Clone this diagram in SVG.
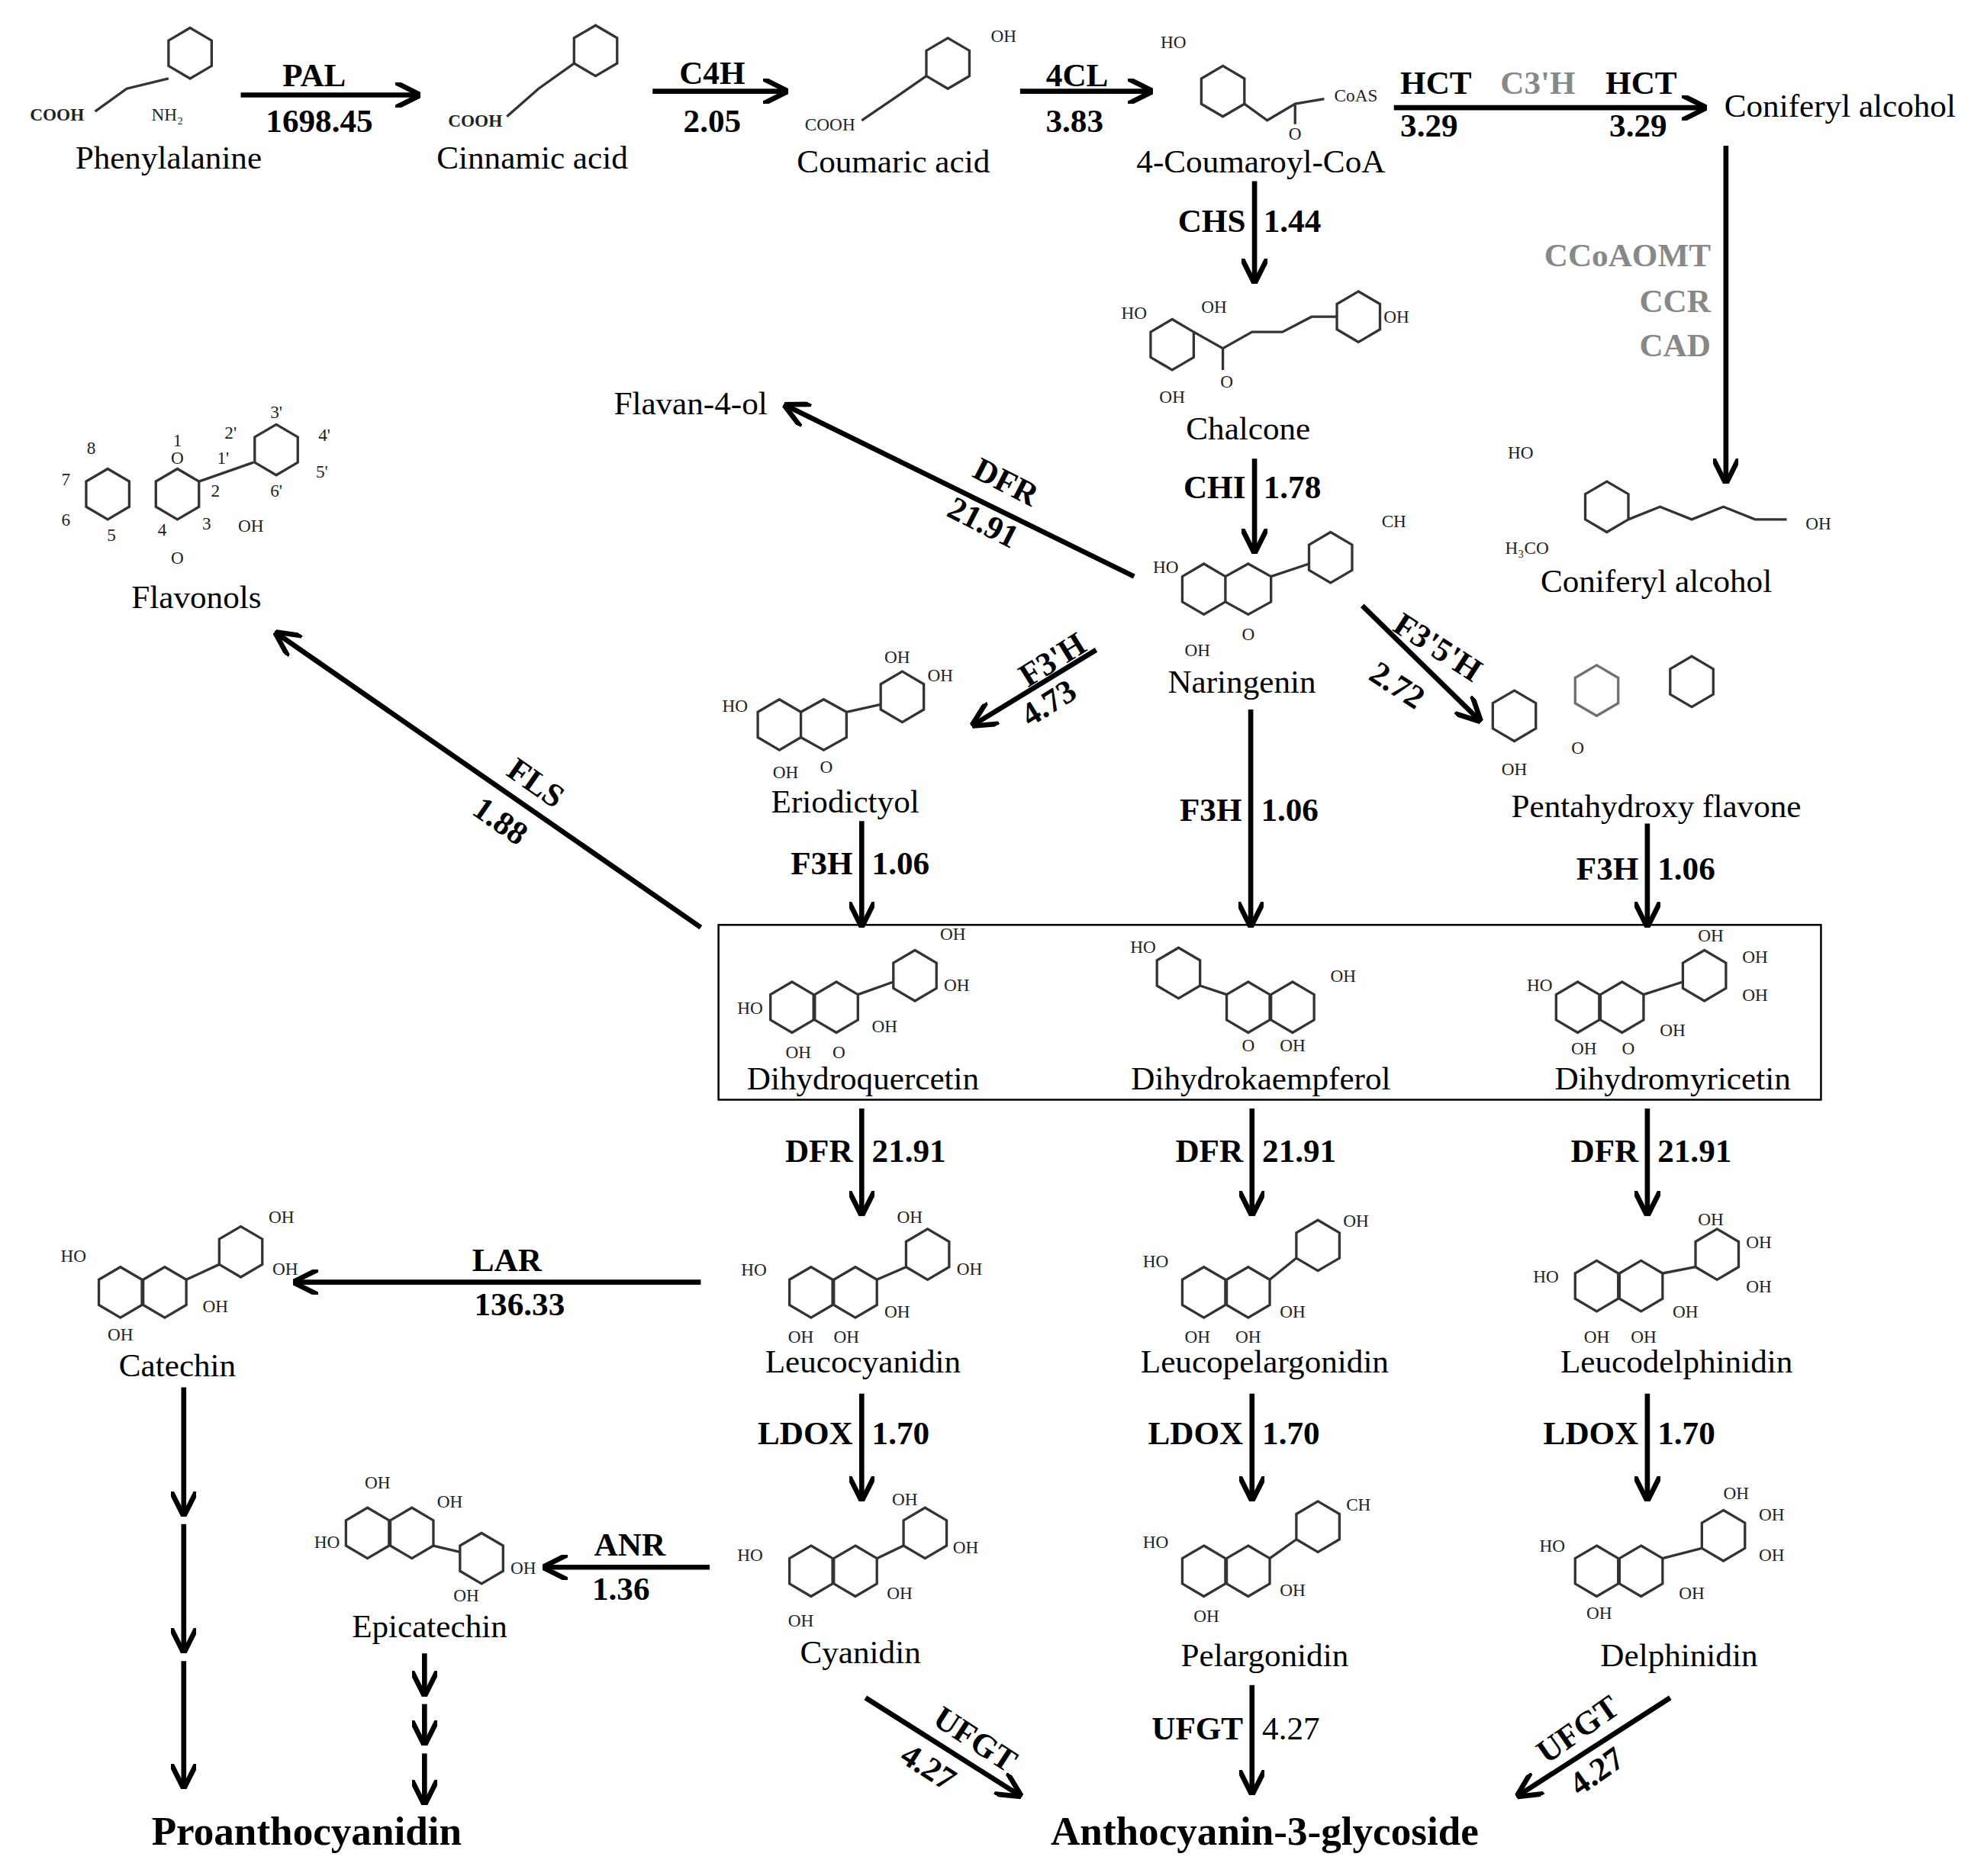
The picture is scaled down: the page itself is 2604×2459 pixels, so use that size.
<svg xmlns="http://www.w3.org/2000/svg" width="2604" height="2459" viewBox="0 0 2604 2459">
<style>
.t{font-family:"Liberation Serif",serif;font-size:26px;fill:#000;text-anchor:middle}
.e{font-family:"Liberation Serif",serif;font-size:26px;font-weight:bold;fill:#000}
.g{fill:#888}
.s{font-family:"Liberation Serif",serif;font-size:14px;fill:#222;text-anchor:middle}
.a{stroke:#000;stroke-width:4;fill:none;marker-end:url(#ah)}
.r{fill:none;stroke:#333;stroke-width:2}
.big{font-family:"Liberation Serif",serif;font-size:32px;font-weight:bold;text-anchor:middle}
</style>
<defs>
<marker id="ah" viewBox="0 0 10 10" refX="8" refY="5" markerWidth="5" markerHeight="5" orient="auto"><path d="M0,0 L10,5 L0,10" fill="none" stroke="#000" stroke-width="2"/></marker>
<path id="hx" d="M0,-20 L17,-10 L17,10 L0,20 L-17,10 L-17,-10 Z"/>
</defs>
<rect width="2604" height="2459" fill="#fff"/>
<g transform="scale(1.6607)">
<g id="structures">
<use href="#hx" x="150" y="42" class="r"/><text class="s" x="45" y="95" font-weight="bold">COOH</text><text class="s" x="132" y="95">NH₂</text><path class="r" d="M75,88 L100,70 L133,62"/>
<use href="#hx" x="470" y="40" class="r"/><text class="s" x="375" y="100" font-weight="bold">COOH</text><path class="r" d="M400,92 L425,70 L453,50"/>
<use href="#hx" x="748" y="50" class="r"/><text class="s" x="792" y="33">OH</text><text class="s" x="655" y="103">COOH</text><path class="r" d="M680,95 L705,78 L731,60"/>
<use href="#hx" x="965" y="72" class="r"/><text class="s" x="926" y="38">HO</text><text class="s" x="1070" y="80">CoAS</text><text class="s" x="1022" y="110">O</text><path class="r" d="M982,82 L1000,95 L1022,82 L1045,78 M1022,82 L1022,98"/>
<g id="chalcone-s"><use href="#hx" x="925" y="272" class="r"/><use href="#hx" x="1072" y="250" class="r"/><path class="r" d="M942,262 L965,275 L988,262 L1012,262 L1035,250 L1055,250 M965,275 L965,292"/><text class="s" x="895" y="252">HO</text><text class="s" x="958" y="247">OH</text><text class="s" x="1102" y="255">OH</text><text class="s" x="925" y="318">OH</text><text class="s" x="968" y="306">O</text></g>
<g id="nar-s"><use href="#hx" x="950" y="465" class="r"/><use href="#hx" x="1050" y="440" class="r"/><path class="r" d="M967,455 L985,445 L1003,455 L1003,475 L985,485 L967,475 M1003,455 L1033,445"/><text class="s" x="920" y="452">HO</text><text class="s" x="1100" y="416">CH</text><text class="s" x="945" y="518">OH</text><text class="s" x="985" y="505">O</text></g>
<g id="erio-s"><use href="#hx" x="615" y="572" class="r"/><use href="#hx" x="712" y="550" class="r"/><path class="r" d="M632,562 L650,552 L668,562 L668,582 L650,592 L632,582 M668,562 L695,556"/><text class="s" x="580" y="562">HO</text><text class="s" x="708" y="523">OH</text><text class="s" x="742" y="538">OH</text><text class="s" x="620" y="614">OH</text><text class="s" x="652" y="610">O</text></g>
<g id="penta-s"><use href="#hx" x="1195" y="565" class="r"/><use href="#hx" x="1260" y="545" class="r" opacity="0.7"/><use href="#hx" x="1335" y="538" class="r"/><text class="s" x="1195" y="612">OH</text><text class="s" x="1245" y="595">O</text></g>
<g id="flavonol-s"><use href="#hx" x="85" y="390" class="r"/><use href="#hx" x="140" y="390" class="r"/><use href="#hx" x="218" y="355" class="r"/><path class="r" d="M157,380 L200,365"/><text class="s" x="140" y="366">O</text><text class="s" x="140" y="445">O</text><text class="s" x="198" y="420">OH</text><text class="s" x="72" y="358">8</text><text class="s" x="52" y="383">7</text><text class="s" x="52" y="415">6</text><text class="s" x="88" y="427">5</text><text class="s" x="128" y="423">4</text><text class="s" x="163" y="418">3</text><text class="s" x="170" y="392">2</text><text class="s" x="140" y="352">1</text><text class="s" x="182" y="346">2'</text><text class="s" x="218" y="330">3'</text><text class="s" x="256" y="348">4'</text><text class="s" x="254" y="377">5'</text><text class="s" x="218" y="392">6'</text><text class="s" x="176" y="366">1'</text></g>
<g id="conif-s"><use href="#hx" x="1268" y="400" class="r"/><path class="r" d="M1285,410 L1310,400 L1335,410 L1360,400 L1385,410 L1410,410"/><text class="s" x="1200" y="362" font-size="20">HO</text><text class="s" x="1205" y="437" font-size="20">H₃CO</text><text class="s" x="1435" y="418" font-size="20">OH</text></g>
<g id="dq"><use href="#hx" x="625" y="795" class="r"/><use href="#hx" x="660" y="795" class="r"/><use href="#hx" x="722" y="770" class="r"/><path class="r" d="M677,785 L705,775"/><text class="s" x="592" y="800">HO</text><text class="s" x="752" y="742">OH</text><text class="s" x="755" y="782">OH</text><text class="s" x="698" y="815">OH</text><text class="s" x="630" y="835">OH</text><text class="s" x="662" y="835">O</text></g>
<g id="dk"><use href="#hx" x="930" y="768" class="r"/><use href="#hx" x="985" y="795" class="r"/><use href="#hx" x="1020" y="795" class="r"/><path class="r" d="M947,778 L968,785"/><text class="s" x="902" y="752">HO</text><text class="s" x="1060" y="775">OH</text><text class="s" x="1020" y="830">OH</text><text class="s" x="985" y="830">O</text></g>
<g id="dm"><use href="#hx" x="1245" y="795" class="r"/><use href="#hx" x="1280" y="795" class="r"/><use href="#hx" x="1345" y="770" class="r"/><path class="r" d="M1297,785 L1328,775"/><text class="s" x="1215" y="782">HO</text><text class="s" x="1350" y="743">OH</text><text class="s" x="1385" y="760">OH</text><text class="s" x="1385" y="790">OH</text><text class="s" x="1320" y="818">OH</text><text class="s" x="1250" y="832">OH</text><text class="s" x="1285" y="832">O</text></g>
<g id="lc"><use href="#hx" x="640" y="1020" class="r"/><use href="#hx" x="675" y="1020" class="r"/><use href="#hx" x="732" y="990" class="r"/><path class="r" d="M692,1010 L715,1000"/><text class="s" x="595" y="1007">HO</text><text class="s" x="718" y="965">OH</text><text class="s" x="765" y="1006">OH</text><text class="s" x="708" y="1040">OH</text><text class="s" x="632" y="1060">OH</text><text class="s" x="668" y="1060">OH</text></g>
<g id="lp"><use href="#hx" x="950" y="1020" class="r"/><use href="#hx" x="985" y="1020" class="r"/><use href="#hx" x="1040" y="983" class="r"/><path class="r" d="M1002,1010 L1023,993"/><text class="s" x="912" y="1000">HO</text><text class="s" x="1070" y="968">OH</text><text class="s" x="1020" y="1040">OH</text><text class="s" x="945" y="1060">OH</text><text class="s" x="985" y="1060">OH</text></g>
<g id="ld"><use href="#hx" x="1260" y="1015" class="r"/><use href="#hx" x="1295" y="1015" class="r"/><use href="#hx" x="1355" y="990" class="r"/><path class="r" d="M1312,1005 L1338,1000"/><text class="s" x="1220" y="1012">HO</text><text class="s" x="1350" y="967">OH</text><text class="s" x="1388" y="985">OH</text><text class="s" x="1388" y="1020">OH</text><text class="s" x="1330" y="1040">OH</text><text class="s" x="1260" y="1060">OH</text><text class="s" x="1297" y="1060">OH</text></g>
<g id="cat"><use href="#hx" x="95" y="1020" class="r"/><use href="#hx" x="130" y="1020" class="r"/><use href="#hx" x="190" y="988" class="r"/><path class="r" d="M147,1010 L173,998"/><text class="s" x="58" y="996">HO</text><text class="s" x="222" y="965">OH</text><text class="s" x="225" y="1006">OH</text><text class="s" x="170" y="1036">OH</text><text class="s" x="95" y="1058">OH</text></g>
<g id="cy"><use href="#hx" x="640" y="1240" class="r"/><use href="#hx" x="675" y="1240" class="r"/><use href="#hx" x="730" y="1210" class="r"/><path class="r" d="M692,1230 L713,1220"/><text class="s" x="592" y="1232">HO</text><text class="s" x="714" y="1188">OH</text><text class="s" x="762" y="1226">OH</text><text class="s" x="710" y="1262">OH</text><text class="s" x="632" y="1284">OH</text></g>
<g id="pe"><use href="#hx" x="950" y="1240" class="r"/><use href="#hx" x="985" y="1240" class="r"/><use href="#hx" x="1040" y="1205" class="r"/><path class="r" d="M1002,1230 L1023,1215"/><text class="s" x="912" y="1222">HO</text><text class="s" x="1072" y="1192">CH</text><text class="s" x="1020" y="1260">OH</text><text class="s" x="952" y="1280">OH</text></g>
<g id="de"><use href="#hx" x="1260" y="1240" class="r"/><use href="#hx" x="1295" y="1240" class="r"/><use href="#hx" x="1360" y="1212" class="r"/><path class="r" d="M1312,1230 L1343,1222"/><text class="s" x="1225" y="1225">HO</text><text class="s" x="1370" y="1183">OH</text><text class="s" x="1398" y="1200">OH</text><text class="s" x="1398" y="1232">OH</text><text class="s" x="1335" y="1262">OH</text><text class="s" x="1262" y="1278">OH</text></g>
<g id="epi"><use href="#hx" x="290" y="1210" class="r"/><use href="#hx" x="325" y="1210" class="r"/><use href="#hx" x="380" y="1230" class="r"/><path class="r" d="M342,1220 L363,1225"/><text class="s" x="298" y="1175">OH</text><text class="s" x="258" y="1222">HO</text><text class="s" x="355" y="1190">OH</text><text class="s" x="368" y="1264">OH</text><text class="s" x="413" y="1242">OH</text></g>
</g>
<g id="connectors">
<line class="a" x1="190" y1="75" x2="328" y2="75"/>
<line class="a" x1="515" y1="72" x2="618" y2="72"/>
<line class="a" x1="805" y1="72" x2="906" y2="72"/>
<line class="a" x1="1100" y1="85" x2="1343" y2="85"/>
<line class="a" x1="990" y1="143" x2="990" y2="220"/>
<line class="a" x1="1362" y1="115" x2="1362" y2="378"/>
<line class="a" x1="990" y1="362" x2="990" y2="433"/>
<line class="a" x1="895" y1="455" x2="622" y2="321"/>
<line class="a" x1="553" y1="732" x2="220" y2="501"/>
<line class="a" x1="865" y1="513" x2="770" y2="571"/>
<line class="a" x1="1075" y1="478" x2="1166" y2="567"/>
<line class="a" x1="987" y1="560" x2="987" y2="728"/>
<line class="a" x1="680" y1="648" x2="680" y2="728"/>
<line class="a" x1="1300" y1="650" x2="1300" y2="728"/>
<line class="a" x1="680" y1="875" x2="680" y2="956"/>
<line class="a" x1="988" y1="875" x2="988" y2="956"/>
<line class="a" x1="1300" y1="875" x2="1300" y2="956"/>
<line class="a" x1="553" y1="1012" x2="235" y2="1012"/>
<line class="a" x1="680" y1="1100" x2="680" y2="1181"/>
<line class="a" x1="988" y1="1100" x2="988" y2="1181"/>
<line class="a" x1="1300" y1="1100" x2="1300" y2="1181"/>
<line class="a" x1="560" y1="1237" x2="432" y2="1237"/>
<line class="a" x1="145" y1="1095" x2="145" y2="1193"/>
<line class="a" x1="145" y1="1203" x2="145" y2="1301"/>
<line class="a" x1="145" y1="1311" x2="145" y2="1408"/>
<line class="a" x1="335" y1="1305" x2="335" y2="1335"/>
<line class="a" x1="335" y1="1345" x2="335" y2="1374"/>
<line class="a" x1="335" y1="1384" x2="335" y2="1421"/>
<line class="a" x1="683" y1="1340" x2="803" y2="1416"/>
<line class="a" x1="988" y1="1330" x2="988" y2="1413"/>
<line class="a" x1="1318" y1="1340" x2="1200" y2="1416"/>
<rect x="567" y="730" width="870" height="138" fill="none" stroke="#000" stroke-width="1.5"/>
</g>
<g id="labels">
<text class="t" x="133" y="133">Phenylalanine</text>
<text class="t" x="420" y="133">Cinnamic acid</text>
<text class="t" x="705" y="136">Coumaric acid</text>
<text class="t" x="995" y="136">4-Coumaroyl-CoA</text>
<text class="t" x="1452" y="92">Coniferyl alcohol</text>
<text class="t" x="985" y="347">Chalcone</text>
<text class="t" x="980" y="547">Naringenin</text>
<text class="t" x="1307" y="467">Coniferyl alcohol</text>
<text class="t" x="545" y="327">Flavan-4-ol</text>
<text class="t" x="155" y="480">Flavonols</text>
<text class="t" x="667" y="641">Eriodictyol</text>
<text class="t" x="1307" y="645">Pentahydroxy flavone</text>
<text class="t" x="681" y="860">Dihydroquercetin</text>
<text class="t" x="995" y="860">Dihydrokaempferol</text>
<text class="t" x="1320" y="860">Dihydromyricetin</text>
<text class="t" x="681" y="1083">Leucocyanidin</text>
<text class="t" x="998" y="1083">Leucopelargonidin</text>
<text class="t" x="1323" y="1083">Leucodelphinidin</text>
<text class="t" x="140" y="1086">Catechin</text>
<text class="t" x="679" y="1313">Cyanidin</text>
<text class="t" x="998" y="1315">Pelargonidin</text>
<text class="t" x="1325" y="1315">Delphinidin</text>
<text class="t" x="339" y="1292">Epicatechin</text>
<text class="big" x="242" y="1456">Proanthocyanidin</text>
<text class="big" x="998" y="1456">Anthocyanin-3-glycoside</text>
<g class="e">
<text x="248" y="68" text-anchor="middle">PAL</text><text x="252" y="104" text-anchor="middle">1698.45</text>
<text x="562" y="66" text-anchor="middle">C4H</text><text x="562" y="104" text-anchor="middle">2.05</text>
<text x="850" y="68" text-anchor="middle">4CL</text><text x="848" y="104" text-anchor="middle">3.83</text>
<text x="1105" y="74">HCT</text><text x="1184" y="74" class="g">C3'H</text><text x="1267" y="74">HCT</text>
<text x="1105" y="108">3.29</text><text x="1270" y="108">3.29</text>
<text x="983" y="183" text-anchor="end">CHS</text><text x="997" y="183">1.44</text>
<text x="983" y="393" text-anchor="end">CHI</text><text x="997" y="393">1.78</text>
<text x="1350" y="210" text-anchor="end" class="g">CCoAOMT</text><text x="1350" y="246" text-anchor="end" class="g">CCR</text><text x="1350" y="281" text-anchor="end" class="g">CAD</text>
<text x="980" y="648" text-anchor="end">F3H</text><text x="995" y="648">1.06</text>
<text x="673" y="690" text-anchor="end">F3H</text><text x="688" y="690">1.06</text>
<text x="1293" y="694" text-anchor="end">F3H</text><text x="1308" y="694">1.06</text>
<text x="673" y="917" text-anchor="end">DFR</text><text x="688" y="917">21.91</text>
<text x="981" y="917" text-anchor="end">DFR</text><text x="996" y="917">21.91</text>
<text x="1293" y="917" text-anchor="end">DFR</text><text x="1308" y="917">21.91</text>
<text x="673" y="1140" text-anchor="end">LDOX</text><text x="688" y="1140">1.70</text>
<text x="981" y="1140" text-anchor="end">LDOX</text><text x="996" y="1140">1.70</text>
<text x="1293" y="1140" text-anchor="end">LDOX</text><text x="1308" y="1140">1.70</text>
<text x="981" y="1373" text-anchor="end">UFGT</text><text x="996" y="1373" font-weight="normal">4.27</text>
<text x="400" y="1003" text-anchor="middle">LAR</text><text x="410" y="1038" text-anchor="middle">136.33</text>
<text x="497" y="1228" text-anchor="middle">ANR</text><text x="490" y="1263" text-anchor="middle">1.36</text>
<text transform="translate(790,388) rotate(27)" text-anchor="middle">DFR</text><text transform="translate(772,420) rotate(27)" text-anchor="middle">21.91</text>
<text transform="translate(418,625) rotate(35)" text-anchor="middle">FLS</text><text transform="translate(390,655) rotate(35)" text-anchor="middle">1.88</text>
<text transform="translate(835,528) rotate(-32)" text-anchor="middle">F3'H</text><text transform="translate(832,562) rotate(-32)" text-anchor="middle">4.73</text>
<text transform="translate(1130,518) rotate(33)" text-anchor="middle">F3'5'H</text><text transform="translate(1098,548) rotate(33)" text-anchor="middle">2.72</text>
<text transform="translate(765,1380) rotate(33)" text-anchor="middle">UFGT</text><text transform="translate(728,1402) rotate(33)" text-anchor="middle">4.27</text>
<text transform="translate(1250,1372) rotate(-35)" text-anchor="middle">UFGT</text><text transform="translate(1265,1405) rotate(-35)" text-anchor="middle">4.27</text>
</g>
</g>
</g>
</svg>
